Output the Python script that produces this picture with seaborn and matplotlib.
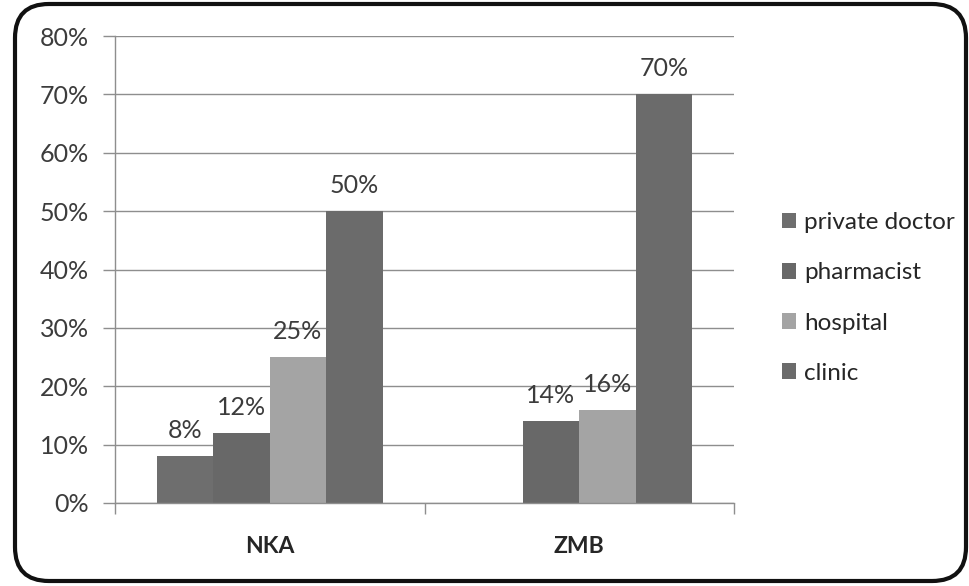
import matplotlib
matplotlib.use("Agg")
import matplotlib.pyplot as plt
from matplotlib.patches import FancyBboxPatch
from matplotlib.ticker import PercentFormatter, FixedLocator
import seaborn as sns
import pandas as pd

# Share of respondents by source of care, per region (percent)
regions = ["NKA", "ZMB"]
sources = ["private doctor", "pharmacist", "hospital", "clinic"]
nka_values = [8, 12, 25, 50]
zmb_values = [0, 14, 16, 70]
y_ticks = [0, 10, 20, 30, 40, 50, 60, 70, 80]

palette = ["#6e6e6e", "#686868", "#a4a4a4", "#6b6b6b"]

rows = []
for region, vals in zip(regions, [nka_values, zmb_values]):
    for src, v in zip(sources, vals):
        rows.append({"region": region, "source": src, "value": v})
df = pd.DataFrame(rows)

sns.set_theme(style="white")
plt.rcParams["font.family"] = ["Lato", "DejaVu Sans"]

fig = plt.figure(figsize=(9.69, 5.86), dpi=100)
fig.patch.set_facecolor("white")
ax = fig.add_axes([115 / 969, 1 - 503 / 586, (734 - 115) / 969, (503 - 36) / 586])

sns.barplot(data=df, x="region", y="value", hue="source", order=regions,
            hue_order=sources, palette=palette, width=0.73, saturation=1,
            edgecolor="none", linewidth=0, ax=ax)

ax.set_ylim(0, 80)
ax.set_xlim(-0.5, 1.5)
ax.yaxis.set_major_locator(FixedLocator(y_ticks))
ax.yaxis.set_major_formatter(PercentFormatter(100, decimals=0))
ax.set_xlabel("")
ax.set_ylabel("")

grid_col = "#8e8e8e"
ax.grid(axis="y", color=grid_col, linewidth=1.0)
ax.set_axisbelow(True)
for side in ["top", "right"]:
    ax.spines[side].set_visible(False)
for side in ["left", "bottom"]:
    ax.spines[side].set_color(grid_col)
    ax.spines[side].set_linewidth(1.0)

text_col = "#3c3c3c"
ax.tick_params(axis="y", which="major", length=9, width=1.0, color=grid_col,
               labelsize=18, labelcolor=text_col, pad=10, left=True)
ax.tick_params(axis="x", which="major", length=0, labelsize=16.5,
               labelcolor="#262626", pad=24)
for lab in ax.get_xticklabels():
    lab.set_fontweight("bold")
ax.xaxis.set_minor_locator(FixedLocator([-0.5, 0.5, 1.5]))
ax.tick_params(axis="x", which="minor", length=8, width=1.0, color=grid_col,
               bottom=True)

for container, src in zip(ax.containers, sources):
    labels = [f"{v:.0f}%" if v > 0 else "" for v in container.datavalues]
    ax.bar_label(container, labels=labels, padding=10, fontsize=18,
                 color=text_col)

handles, labels = ax.get_legend_handles_labels()
ax.legend(handles, labels, loc="center left",
          bbox_to_anchor=(760 / 969, 1 - 298 / 586),
          bbox_transform=fig.transFigure, frameon=False, fontsize=17.5,
          handlelength=0.6, handleheight=0.6, handletextpad=0.3,
          labelspacing=1.2, labelcolor="#262626")

# Rounded outer frame of the chart
frame = FancyBboxPatch((15 / 969, 5 / 586), (951 / 969), (577 / 586),
                       boxstyle="round,pad=0,rounding_size=0.035",
                       transform=fig.transFigure, facecolor="none",
                       edgecolor="#111111", linewidth=3, zorder=10,
                       mutation_aspect=969 / 586)
fig.patches.append(frame)

fig.savefig("out.png", dpi=100, facecolor="white")
